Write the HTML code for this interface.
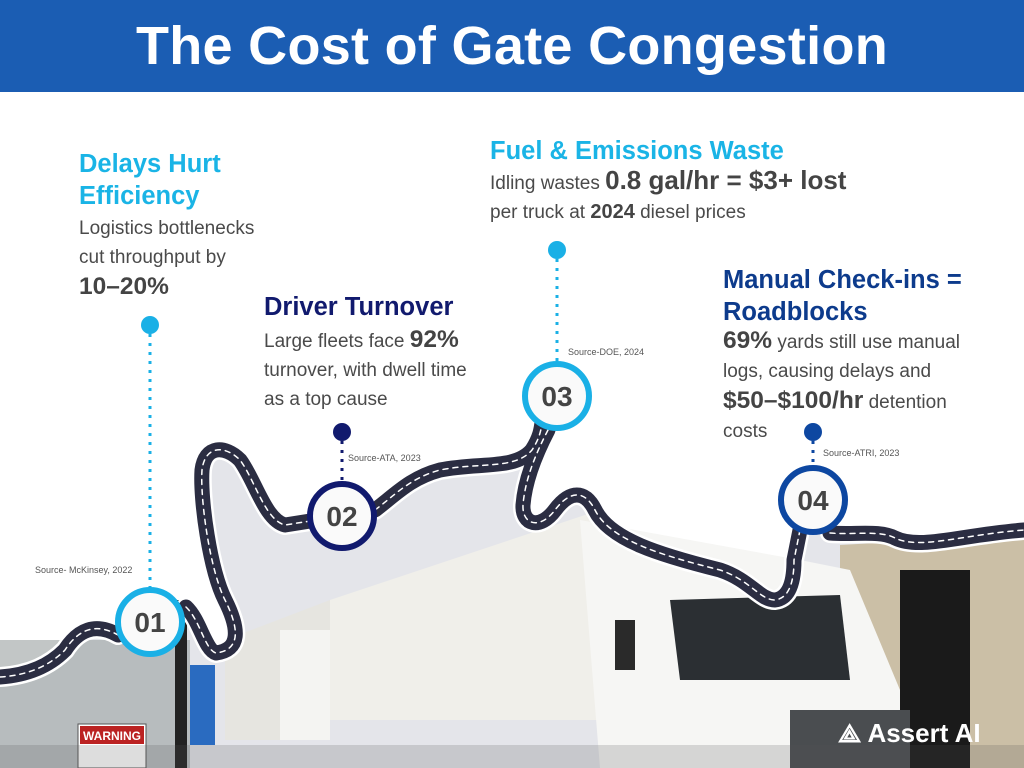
<!DOCTYPE html>
<html><head><meta charset="utf-8"><style>
body{margin:0;width:1024px;height:768px;overflow:hidden;background:#fff;font-family:"Liberation Sans",sans-serif;position:relative}
.t{position:absolute;white-space:nowrap}
.h{font-weight:bold;font-size:25.5px;line-height:32px}
.b{font-size:19px;line-height:29px;color:#4a4a4a}
.b b{font-size:24.5px;color:#444}
.src{font-size:9px;color:#555}
</style></head><body>
<svg width="1024" height="768" style="position:absolute;left:0;top:0">
<rect x="0" y="0" width="1024" height="92" fill="#1b5db3"/>
<path d="M0,677 L65,660 L91,622 L118,630 L150,622 L186,607 L216,653 L235,633 L216,587 L202,457 L222,447 L248,467 L274,530 L307,523 L342,516 L385,510 L425,473 L496,467 L529,450 L557,396 L555,430 L529,467 L523,510 L542,523 L575,497 L588,500 L627,540 L718,570 L771,600 L794,573 L794,533 L813,500 L830,533 L882,533 L914,543 L1024,533 L1024,768 L0,768 Z" fill="#e4e5ea"/>
<polygon points="840,545 1024,535 1024,768 840,768" fill="#cbbfa6"/>
<rect x="900" y="570" width="70" height="198" fill="#1a1a1a"/>
<polygon points="330,600 600,510 600,720 330,720" fill="#f0efea"/>
<polygon points="225,640 330,600 330,740 225,740" fill="#e6e5e0"/>
<rect x="190" y="665" width="25" height="80" fill="#2a6bc0"/>
<rect x="280" y="630" width="50" height="110" fill="#f4f4f2"/>
<polygon points="580,520 800,560 850,570 900,690 900,768 600,768" fill="#f6f6f4"/>
<polygon points="670,600 840,595 850,680 680,680" fill="#2b2f33"/>
<rect x="790" y="710" width="120" height="58" fill="#4a4d50"/>
<rect x="615" y="620" width="20" height="50" fill="#2a2a2a"/>
<rect x="0" y="640" width="190" height="128" fill="#9aa0a0" opacity="0.6"/>
<rect x="175" y="600" width="12" height="168" fill="#222"/>
<rect x="78" y="724" width="68" height="44" fill="#fff" stroke="#555"/>
<rect x="80" y="726" width="64" height="18" fill="#b22"/>
<text x="112" y="740" font-size="12" font-weight="bold" fill="#fff" text-anchor="middle" font-family="Liberation Sans">WARNING</text>
<rect x="0" y="745" width="1024" height="23" fill="#555" opacity="0.2"/>
<g fill="none" stroke-linecap="round" stroke-linejoin="round">
<path id="r" d="M0,677 C30,675 50,665 65,650 C78,630 95,622 118,635 L150,622 M186,607 C200,620 205,650 216,653 C240,650 240,630 225,600 C210,570 200,500 202,470 C205,445 225,445 240,460 C255,480 265,520 285,525 L342,516 M375,510 C395,495 410,478 440,470 C480,462 515,470 532,450 C545,430 540,420 545,410 M548,430 C535,455 525,480 523,505 C522,525 540,530 555,510 C570,490 585,490 595,510 C610,540 660,555 720,570 C750,580 760,600 775,600 C790,598 794,580 794,560 L800,530 M830,533 C855,535 880,530 895,538 C920,550 960,535 1024,530"/>
<use href="#r" stroke="#fff" stroke-width="20"/>
<use href="#r" stroke="#2b2d42" stroke-width="15"/>
<use href="#r" stroke="#fff" stroke-width="1.5" stroke-dasharray="5 5"/>
</g>
<line x1="150" y1="325" x2="150" y2="590" stroke="#1ab0e6" stroke-width="3" stroke-dasharray="3 6"/>
<circle cx="150" cy="325" r="9" fill="#1ab0e6"/>
<line x1="342" y1="432" x2="342" y2="484" stroke="#111a6e" stroke-width="3" stroke-dasharray="3 6"/>
<circle cx="342" cy="432" r="9" fill="#111a6e"/>
<line x1="557" y1="250" x2="557" y2="364" stroke="#1ab0e6" stroke-width="3" stroke-dasharray="3 6"/>
<circle cx="557" cy="250" r="9" fill="#1ab0e6"/>
<line x1="813" y1="432" x2="813" y2="468" stroke="#0d47a1" stroke-width="3" stroke-dasharray="3 6"/>
<circle cx="813" cy="432" r="9" fill="#0d47a1"/>
<g font-family="Liberation Sans" font-size="28" font-weight="bold" fill="#444" text-anchor="middle">
<circle cx="150" cy="622" r="32" fill="#fafafa" stroke="#1ab0e6" stroke-width="6"/><text x="150" y="632">01</text>
<circle cx="342" cy="516" r="32" fill="#fafafa" stroke="#111a6e" stroke-width="6"/><text x="342" y="526">02</text>
<circle cx="557" cy="396" r="32" fill="#fafafa" stroke="#1ab0e6" stroke-width="6"/><text x="557" y="406">03</text>
<circle cx="813" cy="500" r="32" fill="#fafafa" stroke="#0d47a1" stroke-width="6"/><text x="813" y="510">04</text>
</g>
</svg>
<div class="t" style="left:0;width:1024px;top:13px;text-align:center;color:#fff;font-weight:bold;font-size:54px;line-height:66px;letter-spacing:0.3px">The Cost of Gate Congestion</div>

<div class="t h" style="left:79px;top:148px;color:#1ab4e6">Delays Hurt<br>Efficiency</div>
<div class="t b" style="left:79px;top:214px">Logistics bottlenecks<br>cut throughput by<br><b>10–20%</b></div>
<div class="t src" style="left:35px;top:565px">Source- McKinsey, 2022</div>

<div class="t h" style="left:264px;top:291px;color:#111a6e">Driver Turnover</div>
<div class="t b" style="left:264px;top:325px">Large fleets face <b>92%</b><br>turnover, with dwell time<br>as a top cause</div>
<div class="t src" style="left:348px;top:453px">Source-ATA, 2023</div>

<div class="t h" style="left:490px;top:135px;color:#1ab4e6">Fuel &amp; Emissions Waste</div>
<div class="t b" style="left:490px;top:166px">Idling wastes <b style="font-size:26px">0.8 gal/hr = $3+ lost</b><br>per truck at <b style="font-size:20px">2024</b> diesel prices</div>
<div class="t src" style="left:568px;top:347px">Source-DOE, 2024</div>

<div class="t h" style="left:723px;top:264px;color:#0d3b8c">Manual Check-ins =<br>Roadblocks</div>
<div class="t b" style="left:723px;top:326px"><b>69%</b> yards still use manual<br>logs, causing delays and<br><b>$50–$100/hr</b> detention<br>costs</div>
<div class="t src" style="left:823px;top:448px">Source-ATRI, 2023</div>

<div class="t" style="left:838px;top:718px;color:#fff;font-weight:bold;font-size:26px">⟁ Assert AI</div>
</body></html>
